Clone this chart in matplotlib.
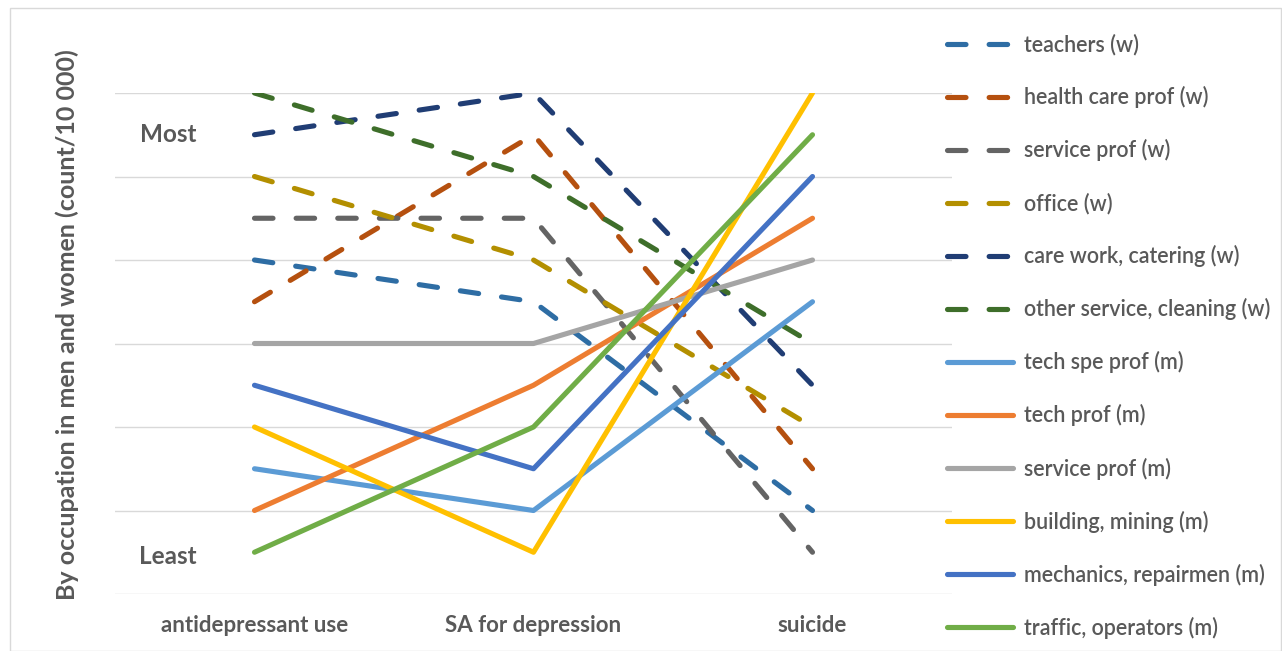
import matplotlib
matplotlib.use("Agg")
import matplotlib.pyplot as plt
from matplotlib.patches import Rectangle

categories = ["antidepressant use", "SA for depression", "suicide"]
series_names = [
    "teachers (w)", "health care prof (w)", "service prof (w)", "office (w)",
    "care work, catering (w)", "other service, cleaning (w)",
    "tech spe prof (m)", "tech prof (m)", "service prof (m)",
    "building, mining (m)", "mechanics, repairmen (m)", "traffic, operators (m)",
]
teachers_w = [8, 7, 2]
health_care_w = [7, 11, 3]
service_prof_w = [9, 9, 1]
office_w = [10, 8, 4]
care_work_w = [11, 12, 5]
other_service_w = [12, 10, 6]
tech_spe_prof_m = [3, 2, 7]
tech_prof_m = [2, 5, 9]
service_prof_m = [6, 6, 8]
building_m = [4, 1, 12]
mechanics_m = [5, 3, 10]
traffic_m = [1, 4, 11]
values = [teachers_w, health_care_w, service_prof_w, office_w, care_work_w,
          other_service_w, tech_spe_prof_m, tech_prof_m, service_prof_m,
          building_m, mechanics_m, traffic_m]
colors = ["#2E6DA4", "#B5500F", "#646464", "#B38F00", "#203D74", "#3E6E2A",
          "#5B9BD5", "#ED7D31", "#A5A5A5", "#FFC000", "#4472C4", "#70AD47"]
dashed = [True] * 6 + [False] * 6

plt.rcParams['font.family'] = ['Lato', 'DejaVu Sans']
txt = "#595959"

fig = plt.figure(figsize=(12.82, 6.51), dpi=100)
fig.patches.append(Rectangle((10 / 1282, 0.0), 1 - 10 / 1282 - 0.001, 1 - 8 / 651,
                             transform=fig.transFigure, fill=False,
                             edgecolor="#D9D9D9", lw=1))
ax = fig.add_axes([115 / 1282, 1 - 594 / 651, (952 - 115) / 1282, (594 - 93) / 651])

LW = 3.7
x = list(range(len(categories)))
for name, v, c, d in zip(series_names, values, colors, dashed):
    if d:
        ax.plot(x, v, color=c, lw=LW, label=name, linestyle=(0, (3.6, 4.5)),
                dash_capstyle='round', solid_capstyle='round')
    else:
        ax.plot(x, v, color=c, lw=LW, label=name, solid_capstyle='round')

ax.set_xlim(-0.5, 2.5)
ax.set_ylim(0, 12)
ax.set_yticks(range(0, 13, 2))
ax.set_yticklabels([])
ax.tick_params(axis='y', length=0)
ax.tick_params(axis='x', length=0, pad=15)
ax.set_xticks(x)
ax.set_xticklabels(categories, fontsize=16, fontweight='bold', color=txt)
ax.grid(axis='y', color="#D9D9D9", lw=1)
ax.set_axisbelow(True)
for s in ax.spines.values():
    s.set_visible(False)

ax.text(-0.31, 11, "Most", fontsize=17.5, fontweight='bold', color=txt, ha='center', va='center')
ax.text(-0.31, 0.9, "Least", fontsize=17.5, fontweight='bold', color=txt, ha='center', va='center')
ax.set_ylabel("By occupation in men and women (count/10 000)", fontsize=18,
              fontweight='bold', color=txt)
ax.yaxis.set_label_coords(-0.043, 0.537)

leg = fig.legend(loc='upper left', bbox_to_anchor=(938 / 1282, 1 - 25 / 651),
                 frameon=False, fontsize=15.5, labelspacing=1.44, handlelength=3.1,
                 handletextpad=0.5, borderaxespad=0)
for t in leg.get_texts():
    t.set_color(txt)
    t.set_fontweight('semibold')

fig.savefig("out.png", dpi=100)
